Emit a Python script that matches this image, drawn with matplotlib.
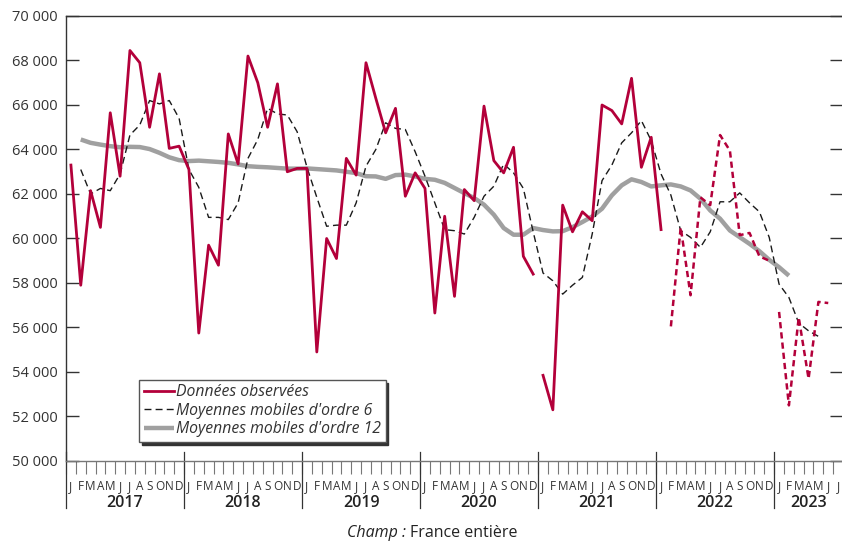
import numpy as np
import matplotlib
matplotlib.use("Agg")
import matplotlib.pyplot as plt
import matplotlib.transforms as mtransforms

plt.rcParams['font.family'] = ['Open Sans', 'DejaVu Sans']

years = ["2017", "2018", "2019", "2020", "2021", "2022", "2023"]
month_letters = ["J", "F", "M", "A", "M", "J", "J", "A", "S", "O", "N", "D"]
n_months = 79  # janv. 2017 -> juil. 2023

# donnees observees 2017-2020
obs_1720 = [63300, 57900, 62150, 60500, 65650, 62800, 68450, 67900, 65000, 67400, 64050, 64150,
            63100, 55750, 59700, 58800, 64700, 63350, 68200, 67000, 65000, 66950, 63000, 63150,
            63150, 54900, 60000, 59100, 63600, 62850, 67900, 66300, 64750, 65850, 61900, 62950,
            62250, 56650, 61000, 57400, 62200, 61700, 65950, 63500, 62950, 64100, 59200, 58400]
# donnees observees janv. 2021 - janv. 2022
obs_21 = [53850, 52300, 61500, 60300, 61200, 60800, 66000, 65750, 65150, 67200, 63200, 64550, 60400]
# donnees provisoires fevr. - dec. 2022
prov_22 = [56050, 60500, 57450, 61850, 61500, 64650, 63950, 60150, 60250, 59200, 59000]
# donnees provisoires 2023
prov_23 = [56700, 52500, 56450, 53700, 57150, 57100]

# moyenne mobile d'ordre 6, fevr. 2017 -> avr. 2023
mm6 = [63100, 62000, 62250, 62150, 62900, 64650, 65100, 66200, 66050, 66200, 65400,
       63100, 62300, 60950, 60950, 60850, 61600, 63600, 64450, 65850, 65600, 65550, 64800,
       63200, 61850, 60550, 60600, 60600, 61600, 63250, 64000, 65200, 64950, 64900, 63900,
       62800, 61600, 60400, 60350, 60200, 60950, 61900, 62350, 63350, 62950, 62250, 60300,
       58450, 58100, 57500, 57900, 58250, 60200, 62600, 63300, 64300, 64750, 65300, 64400,
       62900, 61950, 60350, 60050, 59600, 60300, 61650, 61650, 62050, 61600, 61200, 60050,
       57950, 57350, 56200, 55850, 55600]
# moyenne mobile d'ordre 12, fevr. 2017 -> fevr. 2023
mm12 = [64450, 64300, 64220, 64150, 64100, 64120, 64110, 64020, 63850, 63650, 63520,
        63480, 63500, 63470, 63440, 63400, 63330, 63250, 63220, 63200, 63170, 63140, 63140,
        63150, 63120, 63090, 63060, 63000, 62940, 62800, 62790, 62680, 62850, 62870, 62790,
        62680, 62640, 62500, 62270, 62040, 61820, 61520, 61070, 60470, 60170, 60170, 60470,
        60380, 60320, 60330, 60510, 60740, 60990, 61340, 61940, 62390, 62660, 62540, 62340,
        62390, 62430, 62340, 62160, 61790, 61260, 60890, 60360, 60060, 59760, 59430, 59040,
        58710, 58330]

red = '#b3003a'
x_all = np.arange(n_months)

fig = plt.figure(figsize=(8.42, 5.42), dpi=100)
ax = fig.add_axes([66 / 842, 81 / 542, 777 / 842, 445 / 542])

ax.plot(x_all[1:1 + len(mm12)], mm12, color='#a0a0a0', lw=3.2, solid_capstyle='butt', zorder=2,
        label="Moyennes mobiles d'ordre 12")
ax.plot(x_all[1:1 + len(mm6)], mm6, color='#1a1a1a', lw=1.0, dashes=(5, 3), zorder=3,
        label="Moyennes mobiles d'ordre 6")
ax.plot(x_all[0:48], obs_1720, color=red, lw=2.0, zorder=4, label="Données observées")
ax.plot(x_all[48:48 + len(obs_21)], obs_21, color=red, lw=2.0, zorder=4)
ax.plot(x_all[61:61 + len(prov_22)], prov_22, color=red, lw=1.8, dashes=(2.5, 1.6), zorder=4)
ax.plot(x_all[72:72 + len(prov_23)], prov_23, color=red, lw=1.8, dashes=(2.5, 1.6), zorder=4)

ax.set_xlim(-0.5, n_months - 0.5)
ax.set_ylim(50000, 70000)
yt = np.arange(50000, 70001, 2000)
ax.set_yticks(yt)
ax.set_yticklabels([f"{v // 1000} 000" for v in yt], fontsize=10.5, color='#333333')
ax.tick_params(axis='y', direction='in', length=9.5, width=1, color='#333333', pad=6,
               right=True, left=True)

# ticks aux limites des mois, lettres au centre
ax.set_xticks(np.arange(-0.5, n_months, 1.0))
ax.set_xticklabels([])
ax.tick_params(axis='x', which='major', direction='out', length=9.5, width=0.8, color='#777777')
ax.set_xticks(x_all, minor=True)
ax.set_xticklabels([month_letters[i % 12] for i in x_all], minor=True,
                   fontsize=8.5, color='#333333',
                   fontfamily=['Liberation Sans Narrow', 'Open Sans'])
ax.tick_params(axis='x', which='minor', length=0, pad=13.5)

trans = mtransforms.blended_transform_factory(ax.transData, ax.transAxes)
for k in range(len(years) + 1):
    xb = -0.5 + 12 * k
    if xb > n_months - 0.5:
        break
    ax.plot([xb, xb], [0.02, -0.106], transform=trans, color='#333333', lw=0.9, clip_on=False)
for k, yr in enumerate(years):
    x0 = -0.5 + 12 * k
    x1 = min(x0 + 12, n_months - 0.5)
    ax.text((x0 + x1) / 2, -0.094, yr, transform=trans, ha='center', va='center',
            fontsize=11.5, fontweight='semibold', color='#222222')

ax.spines['right'].set_visible(False)
ax.spines['left'].set_color('#333333')
ax.spines['top'].set_color('#333333')
ax.spines['bottom'].set_color('#777777')
for s in ['left', 'top', 'bottom']:
    ax.spines[s].set_linewidth(1.0)

handles, labels = ax.get_legend_handles_labels()
order = [2, 1, 0]
leg = ax.legend([handles[i] for i in order], [labels[i] for i in order],
                loc='lower left', bbox_to_anchor=(0.094, 0.043), frameon=True, fancybox=False,
                shadow={'color': '#333333', 'alpha': 1.0}, edgecolor='#555555',
                prop={'style': 'italic', 'size': 11.3}, handlelength=1.9, handletextpad=0.15,
                labelspacing=0.15, borderpad=0.3, borderaxespad=0)
leg.get_frame().set_linewidth(1.0)
for t in leg.get_texts():
    t.set_color('#333333')

fig.text(406 / 842, 9 / 542, "Champ :", ha='right', va='center', fontsize=11.5, style='italic',
         color='#222222')
fig.text(410 / 842, 9 / 542, "France entière", ha='left', va='center', fontsize=11.5,
         color='#222222')

fig.savefig("out.png", dpi=100)
